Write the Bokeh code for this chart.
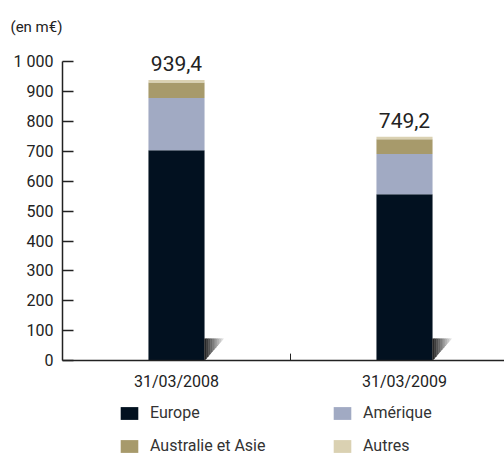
from bokeh.plotting import figure
from bokeh.layouts import column
from bokeh.models import (Range1d, FixedTicker, Legend, LegendItem, ColumnDataSource)
from bokeh.core.properties import value
from bokeh.embed import file_html
from bokeh.resources import INLINE

# ---- data ----
dates = ["31/03/2008", "31/03/2009"]
europe = [704.0, 557.0]
amerique = [175.0, 135.0]
australie_asie = [52.0, 49.0]
autres = [8.4, 8.2]
totals = [939.4, 749.2]
total_labels = ["939,4", "749,2"]
series_names = ["Europe", "Amérique", "Australie et Asie", "Autres"]
y_ticks = [0, 100, 200, 300, 400, 500, 600, 700, 800, 900, 1000]
y_tick_labels = ["0", "100", "200", "300", "400", "500", "600", "700", "800", "900", "1 000"]

colors = ["#021120", "#a1aac3", "#a79a6b", "#dad1b2"]
FONT = "Roboto"

xpos = [0.5 + i for i in range(len(dates))]
bar_w = 0.246

p = figure(output_backend="svg", toolbar_location=None,
           width=504, height=394,
           x_range=Range1d(0, 442 / 228), y_range=Range1d(0, 320.5 / 0.299),
           min_border_left=62, min_border_right=0, min_border_top=40, min_border_bottom=34)
p.outline_line_color = None
p.grid.visible = False
p.background_fill_color = "white"

src = ColumnDataSource(dict(x=xpos, Europe=europe, Amerique=amerique,
                            Aus=australie_asie, Autres=autres,
                            total=totals, lab=total_labels))
rs = p.vbar_stack(["Europe", "Amerique", "Aus", "Autres"], x="x", width=bar_w,
                  color=colors, line_color=None, source=src)

# decorative shadow triangle at the foot of each bar (vertical strips for gradient)
tri_h = 73.0
tri_w = 0.083
n = 10
shade = ["#2a2a2a", "#3c3c3c", "#505050", "#646464", "#787878",
         "#8c8c8c", "#a0a0a0", "#b4b4b4", "#c8c8c8", "#dcdcdc"]
for xc in xpos:
    xr = xc + bar_w / 2
    xs, ys = [], []
    for i in range(n):
        x0 = xr + tri_w * i / n
        x1 = xr + tri_w * (i + 1) / n
        xs.append([x0, x1, x1, x0])
        ys.append([tri_h * i / n, tri_h * (i + 1) / n, tri_h, tri_h])
    p.patches(xs, ys, fill_color=shade, line_color=shade, line_width=0.5)

p.text(x="x", y="total", text="lab", source=src, text_align="center",
       text_baseline="bottom", y_offset=-9, text_font=value(FONT),
       text_font_size="21px", text_color="#222222")

p.segment(x0=[1.0], y0=[0], x1=[1.0], y1=[23], line_color="#222222", line_width=1)

xa = p.xaxis[0]
xa.ticker = FixedTicker(ticks=xpos)
xa.major_label_overrides = {xp: d for xp, d in zip(xpos, dates)}
xa.major_tick_in = 0
xa.major_tick_out = 0
xa.minor_tick_line_color = None
xa.axis_line_color = "#222222"
xa.axis_line_width = 1.5
xa.major_label_text_font = FONT
xa.major_label_text_font_size = "16px"
xa.major_label_text_color = "#222222"
xa.major_label_standoff = 11

ya = p.yaxis[0]
ya.ticker = FixedTicker(ticks=y_ticks)
ya.major_label_overrides = {t: l for t, l in zip(y_ticks, y_tick_labels)}
ya.bounds = (0, 1000)
ya.major_tick_in = 11
ya.major_tick_out = 0
ya.minor_tick_line_color = None
ya.axis_line_color = "#222222"
ya.major_tick_line_color = "#222222"
ya.axis_line_width = 1.5
ya.major_tick_line_width = 1.5
ya.major_label_text_font = FONT
ya.major_label_text_font_size = "16px"
ya.major_label_text_color = "#222222"
ya.major_label_standoff = 9

p.title.text = "(en m€)"
p.title.align = "left"
p.title.offset = -52
p.title.text_font = FONT
p.title.text_font_size = "15px"
p.title.text_font_style = "normal"
p.title.text_color = "#222222"

# legend in its own strip below the chart (swatch renderers sit outside the visible range)
pl = figure(output_backend="svg", toolbar_location=None, width=504, height=60,
            x_range=Range1d(0, 1), y_range=Range1d(0, 1),
            min_border_left=0, min_border_right=0, min_border_top=0, min_border_bottom=0)
pl.outline_line_color = None
pl.axis.visible = False
pl.grid.visible = False
leg_src = ColumnDataSource(dict(x=[-10.0], top=[0.0]))
leg_rs = [pl.vbar(x="x", top="top", width=0.1, fill_color=c, line_color=None, source=leg_src)
          for c in colors]
items = [LegendItem(label=nm, renderers=[r]) for nm, r in zip(series_names, leg_rs)]
leg = Legend(items=items, orientation="horizontal", nrows=2, location=(56, -1),
             glyph_width=22, glyph_height=16, label_standoff=10,
             label_width=167, label_height=16, spacing=14,
             label_text_font=FONT, label_text_font_size="16px",
             label_text_color="#333333", border_line_color=None,
             background_fill_alpha=0, margin=0, padding=0)
pl.add_layout(leg, "center")

layout = column(p, pl, spacing=0)
open("out.html", "w").write(file_html(layout, INLINE))
